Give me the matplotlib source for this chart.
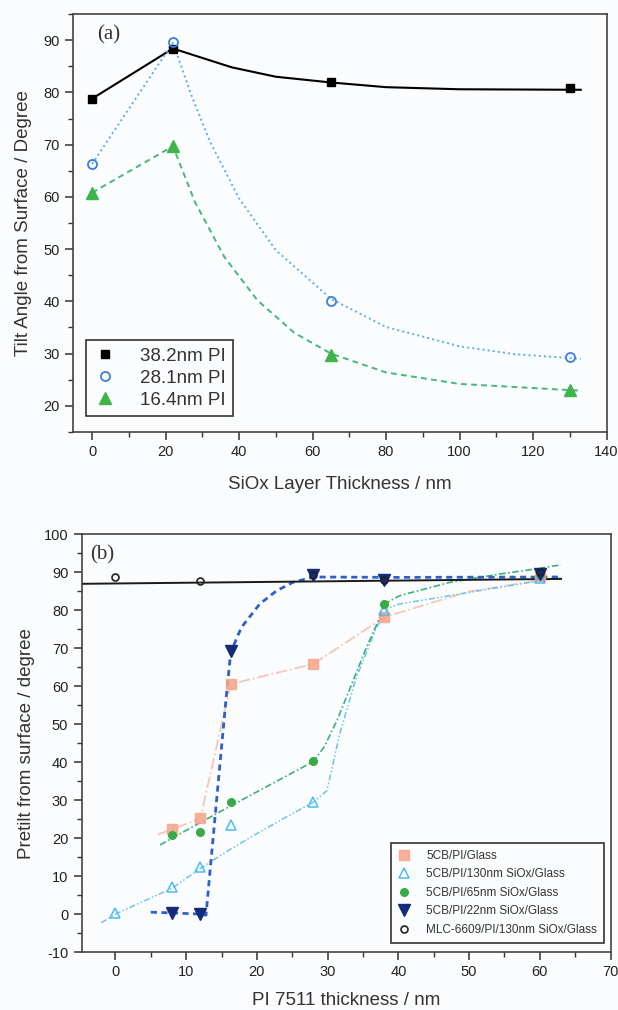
import matplotlib
matplotlib.use("Agg")
import matplotlib.pyplot as plt
from matplotlib.ticker import MultipleLocator

# ---- panel (a): tilt angle vs SiOx thickness ----
siox_nm = [0, 22, 65, 130]
tilt_382 = [78.8, 88.4, 82.0, 80.8]
tilt_281 = [66.3, 89.7, 40.1, 29.4]
tilt_164 = [60.8, 69.7, 29.8, 23.0]
labels_a = ["38.2nm PI", "28.1nm PI", "16.4nm PI"]

# guide curves drawn through the points
fit_x_382 = [0, 22, 30, 38, 50, 65, 80, 100, 133]
fit_y_382 = [78.8, 88.4, 86.6, 84.8, 83.0, 81.9, 81.0, 80.6, 80.5]
fit_x_281 = [0, 22, 27, 32, 40, 50, 65, 80, 100, 115, 133]
fit_y_281 = [66.3, 89.5, 79.5, 70.7, 59.7, 49.8, 40.5, 35.1, 31.4, 29.9, 29.0]
fit_x_164 = [0, 22, 28, 36, 45, 55, 65, 80, 100, 133]
fit_y_164 = [60.8, 69.7, 59.0, 48.5, 40.2, 34.0, 30.0, 26.4, 24.2, 22.9]

# ---- panel (b): pretilt vs PI 7511 thickness ----
pi_glass_x = [8, 12, 16.3, 28, 38, 60]
pi_glass_y = [22.3, 25.2, 60.6, 65.9, 78.2, 89.0]
pi_130_x = [0, 8, 12, 16.3, 28, 38, 60]
pi_130_y = [0.4, 7.0, 12.4, 23.4, 29.4, 80.1, 88.5]
pi_65_x = [8, 12, 16.3, 28, 38, 60]
pi_65_y = [20.8, 21.5, 29.6, 40.2, 81.7, 89.5]
pi_22_x = [8, 12, 16.3, 28, 38, 60]
pi_22_y = [0.3, 0.0, 69.3, 89.2, 87.9, 89.6]
mlc_x = [0, 12, 28, 38, 60]
mlc_y = [88.7, 87.8, 89.2, 88.0, 90.1]
labels_b = ["5CB/PI/Glass", "5CB/PI/130nm SiOx/Glass", "5CB/PI/65nm SiOx/Glass",
            "5CB/PI/22nm SiOx/Glass", "MLC-6609/PI/130nm SiOx/Glass"]

line_glass_x = [6, 8, 12, 16.3, 28, 38, 50, 62]
line_glass_y = [21.0, 22.3, 25.2, 60.6, 65.9, 78.2, 85.0, 88.5]
line_130_x = [-2, 0, 8, 12, 16, 20, 24, 28, 29.9, 31.7, 34, 36.9, 38.6, 40.2, 47.3, 54.4, 58.6, 63]
line_130_y = [-2.3, 0.0, 6.8, 12.0, 16.8, 21.2, 25.4, 29.5, 32.5, 47.4, 62.0, 75.5, 80.6, 81.7,
              83.9, 86.1, 87.4, 88.5]
line_65_x = [6.3, 8, 12, 16.3, 20, 24, 28, 29.5, 31.3, 33.5, 35.5, 37.4, 38.3, 40.2, 47.3, 54.4, 58.6, 63]
line_65_y = [18.2, 20.0, 24.1, 28.5, 32.2, 36.2, 40.2, 44.0, 50.9, 61.0, 70.3, 78.2, 82.0, 83.9,
             87.4, 89.6, 90.7, 92.0]
line_22_x = [5, 8, 12, 12.8, 14.2, 15.6, 16.3, 17.8, 20.4, 22.8, 25.1, 28, 40, 63]
line_22_y = [0.5, 0.3, 0.0, -0.3, 28.0, 56.0, 69.0, 75.5, 81.7, 85.2, 87.4, 88.8, 88.7, 88.8]
line_mlc_x = [-5, 63]
line_mlc_y = [87.0, 88.3]

BG = "#fafcfe"
NARROW = ["Liberation Sans Narrow", "Liberation Sans", "DejaVu Sans"]
plt.rcParams["font.family"] = NARROW
plt.rcParams["axes.unicode_minus"] = False
plt.rcParams["axes.linewidth"] = 1.2
plt.rcParams["axes.edgecolor"] = "#444444"

fig = plt.figure(figsize=(6.18, 10.10), dpi=100, facecolor=BG)
ax1 = fig.add_axes([0.1181, 0.5723, 0.8633, 0.4138], facecolor=BG)
ax2 = fig.add_axes([0.1319, 0.0574, 0.8560, 0.4134], facecolor=BG)


def style_axis(ax):
    ax.tick_params(which="both", direction="out", top=False, right=False,
                   colors="#333333", labelsize=10.5, labelcolor="#222222")
    ax.tick_params(which="major", length=6, width=1.1)
    ax.tick_params(which="minor", length=3.5, width=1.0)


# panel (a)
ax1.plot(fit_x_382, fit_y_382, "-", color="black", lw=1.5)
ax1.plot(fit_x_281, fit_y_281, ":", color="#5aaef0", lw=1.4)
ax1.plot(fit_x_164, fit_y_164, "--", color="#45b878", lw=1.4, dashes=(3, 2.2))
ax1.plot(siox_nm, tilt_382, "s", color="black", ms=6, label=labels_a[0])
ax1.plot(siox_nm, tilt_281, "o", mfc="none", mec="#3b7fe0", mew=1.3, ms=6.5, label=labels_a[1])
ax1.plot(siox_nm, tilt_164, "^", color="#3db54a", ms=8, label=labels_a[2])

ax1.set_xlim(-5.2, 140)
ax1.set_ylim(15, 95)
ax1.xaxis.set_major_locator(MultipleLocator(20))
ax1.xaxis.set_minor_locator(MultipleLocator(10))
ax1.yaxis.set_major_locator(MultipleLocator(10))
ax1.yaxis.set_minor_locator(MultipleLocator(5))
style_axis(ax1)
ax1.set_yticks([20, 30, 40, 50, 60, 70, 80, 90])
ax1.set_xlabel("SiOx Layer Thickness / nm", fontsize=13.5, color="#333333", labelpad=12)
ax1.set_ylabel("Tilt Angle from Surface / Degree", fontsize=13.5, color="#333333", labelpad=8)
ax1.text(0.045, 0.95, "(a)", transform=ax1.transAxes, ha="left", va="center",
         fontsize=15, family=["Liberation Serif", "DejaVu Serif"], color="#333333")
leg1 = ax1.legend(loc="lower left", bbox_to_anchor=(0.024, 0.038), borderaxespad=0,
                  fontsize=13.5, frameon=True, fancybox=False, edgecolor="#333333",
                  facecolor=BG, framealpha=1, handlelength=1.2, handletextpad=1.3,
                  labelspacing=0.25, borderpad=0.4, numpoints=1)
leg1.get_frame().set_linewidth(1.2)
for t in leg1.get_texts():
    t.set_color("#333333")

# panel (b)
ax2.plot(line_glass_x, line_glass_y, "-.", color="#f5a585", lw=1.3, alpha=0.6)
ax2.plot(line_130_x, line_130_y, color="#6cc4f0", lw=1.1, dashes=(4, 1.5, 1, 1.5, 1, 1.5))
ax2.plot(line_65_x, line_65_y, color="#3fb07a", lw=1.2, dashes=(4, 1.5, 1, 1.5))
ax2.plot(line_22_x, line_22_y, color="#2f5fcc", lw=2.0, dashes=(2.2, 1.6))
ax2.plot(line_mlc_x, line_mlc_y, "-", color="#1a1a1a", lw=1.4)

ax2.plot(pi_glass_x, pi_glass_y, "s", color="#f7a488", alpha=0.85, ms=6.5, label=labels_b[0])
ax2.plot(pi_130_x, pi_130_y, "^", mfc="none", mec="#4cbcf0", mew=1.1, ms=7.5, label=labels_b[1])
ax2.plot(pi_65_x, pi_65_y, "o", color="#38aa48", ms=5.5, label=labels_b[2])
ax2.plot(pi_22_x, pi_22_y, "v", color="#142a7a", ms=8, label=labels_b[3])
ax2.plot(mlc_x, mlc_y, "o", mfc="none", mec="#222222", mew=1.2, ms=5, label=labels_b[4])

ax2.set_xlim(-4.8, 70)
ax2.set_ylim(-10, 100)
ax2.xaxis.set_major_locator(MultipleLocator(10))
ax2.xaxis.set_minor_locator(MultipleLocator(5))
ax2.yaxis.set_major_locator(MultipleLocator(10))
ax2.yaxis.set_minor_locator(MultipleLocator(5))
style_axis(ax2)
ax2.set_xlabel("PI 7511 thickness / nm", fontsize=13.5, color="#333333", labelpad=9)
ax2.set_ylabel("Pretilt from surface / degree", fontsize=13.5, color="#333333", labelpad=6)
ax2.text(0.016, 0.951, "(b)", transform=ax2.transAxes, ha="left", va="center",
         fontsize=15, family=["Liberation Serif", "DejaVu Serif"], color="#333333")
leg2 = ax2.legend(loc="lower right", bbox_to_anchor=(0.988, 0.022), borderaxespad=0,
                  fontsize=8.5, frameon=True, fancybox=False, edgecolor="#333333",
                  facecolor=BG, framealpha=1, handlelength=1.0, handletextpad=1.4,
                  labelspacing=0.55, borderpad=0.6, numpoints=1,
                  prop={"family": ["Liberation Sans", "DejaVu Sans"], "size": 8.5})
leg2.get_frame().set_linewidth(1.2)
for t in leg2.get_texts():
    t.set_color("#333333")

fig.savefig("out.png", dpi=100, facecolor=BG)
